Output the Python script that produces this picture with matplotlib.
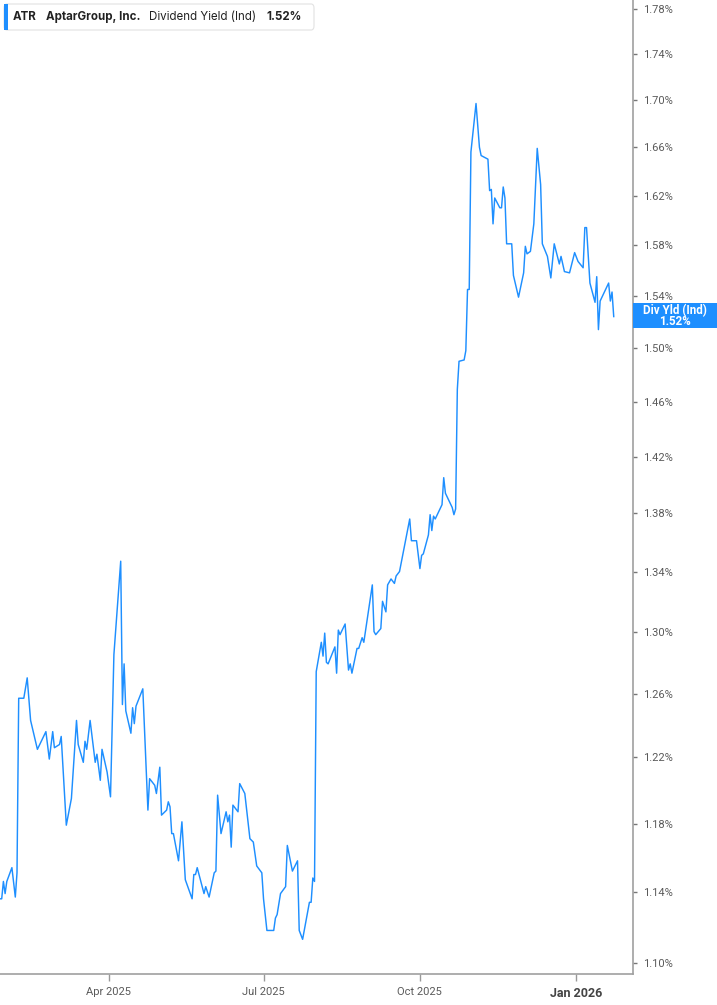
import numpy as np
import pandas as pd
import matplotlib
matplotlib.use("Agg")
import matplotlib.pyplot as plt
import matplotlib.dates as mdates
from matplotlib.patches import Rectangle, FancyBboxPatch
from matplotlib.ticker import FixedLocator, FuncFormatter, NullLocator

# dividend yield (Ind), in percent
dates = [
    "2025-01-27", "2025-01-28", "2025-01-29", "2025-01-30", "2025-01-31", "2025-02-03",
    "2025-02-05", "2025-02-06", "2025-02-07", "2025-02-10", "2025-02-12", "2025-02-14",
    "2025-02-18", "2025-02-23", "2025-02-25", "2025-02-27", "2025-02-28", "2025-03-03",
    "2025-03-04", "2025-03-07", "2025-03-10", "2025-03-13", "2025-03-14", "2025-03-17",
    "2025-03-18", "2025-03-19", "2025-03-21", "2025-03-24", "2025-03-25", "2025-03-27",
    "2025-03-28", "2025-03-31", "2025-04-02", "2025-04-04", "2025-04-08", "2025-04-09",
    "2025-04-10", "2025-04-11", "2025-04-14", "2025-04-15", "2025-04-16", "2025-04-17",
    "2025-04-21", "2025-04-24", "2025-04-25", "2025-04-28", "2025-04-29", "2025-05-01",
    "2025-05-02", "2025-05-05", "2025-05-06", "2025-05-07", "2025-05-08", "2025-05-09",
    "2025-05-12", "2025-05-14", "2025-05-16", "2025-05-20", "2025-05-21", "2025-05-22",
    "2025-05-23", "2025-05-27", "2025-05-28", "2025-05-30", "2025-06-02", "2025-06-03",
    "2025-06-04", "2025-06-06", "2025-06-09", "2025-06-10", "2025-06-11", "2025-06-12",
    "2025-06-13", "2025-06-16", "2025-06-17", "2025-06-20", "2025-06-23", "2025-06-25",
    "2025-06-27", "2025-06-30", "2025-07-01", "2025-07-03", "2025-07-07", "2025-07-08",
    "2025-07-09", "2025-07-11", "2025-07-14", "2025-07-15", "2025-07-18", "2025-07-21",
    "2025-07-22", "2025-07-24", "2025-07-28", "2025-07-29", "2025-07-30", "2025-07-31",
    "2025-08-01", "2025-08-04", "2025-08-05", "2025-08-06", "2025-08-07", "2025-08-08",
    "2025-08-12", "2025-08-13", "2025-08-14", "2025-08-15", "2025-08-18", "2025-08-20",
    "2025-08-21", "2025-08-22", "2025-08-25", "2025-08-26", "2025-08-28", "2025-08-29",
    "2025-09-03", "2025-09-04", "2025-09-05", "2025-09-08", "2025-09-09", "2025-09-11",
    "2025-09-12", "2025-09-14", "2025-09-16", "2025-09-17", "2025-09-19", "2025-09-25",
    "2025-09-26", "2025-09-29", "2025-10-01", "2025-10-02", "2025-10-03", "2025-10-06",
    "2025-10-07", "2025-10-08", "2025-10-09", "2025-10-10", "2025-10-14", "2025-10-15",
    "2025-10-16", "2025-10-20", "2025-10-21", "2025-10-22", "2025-10-23", "2025-10-24",
    "2025-10-27", "2025-10-28", "2025-10-29", "2025-10-30", "2025-10-31", "2025-11-03",
    "2025-11-05", "2025-11-06", "2025-11-10", "2025-11-11", "2025-11-12", "2025-11-13",
    "2025-11-14", "2025-11-17", "2025-11-18", "2025-11-19", "2025-11-20", "2025-11-21",
    "2025-11-24", "2025-11-25", "2025-11-28", "2025-12-01", "2025-12-02", "2025-12-03",
    "2025-12-05", "2025-12-07", "2025-12-09", "2025-12-11", "2025-12-12", "2025-12-15",
    "2025-12-17", "2025-12-19", "2025-12-22", "2025-12-23", "2025-12-25", "2025-12-28",
    "2025-12-31", "2026-01-02", "2026-01-05", "2026-01-06", "2026-01-07", "2026-01-09",
    "2026-01-12", "2026-01-13", "2026-01-14", "2026-01-15", "2026-01-20", "2026-01-21",
    "2026-01-22", "2026-01-23",
]
yield_pct = [
    1.136, 1.136, 1.146, 1.139, 1.146, 1.154,
    1.137, 1.151, 1.257, 1.257, 1.270, 1.243,
    1.225, 1.236, 1.219, 1.236, 1.226, 1.228,
    1.233, 1.179, 1.195, 1.243, 1.228, 1.217,
    1.230, 1.225, 1.243, 1.217, 1.222, 1.206,
    1.225, 1.211, 1.196, 1.285, 1.347, 1.253,
    1.279, 1.249, 1.235, 1.251, 1.241, 1.252,
    1.263, 1.188, 1.207, 1.203, 1.198, 1.214,
    1.185, 1.188, 1.193, 1.190, 1.174, 1.174,
    1.158, 1.181, 1.147, 1.136, 1.150, 1.150,
    1.154, 1.139, 1.143, 1.137, 1.151, 1.152,
    1.197, 1.174, 1.187, 1.181, 1.185, 1.166,
    1.191, 1.187, 1.204, 1.198, 1.171, 1.169,
    1.155, 1.151, 1.136, 1.118, 1.118, 1.125,
    1.127, 1.139, 1.143, 1.167, 1.152, 1.158,
    1.118, 1.113, 1.134, 1.134, 1.148, 1.146,
    1.274, 1.293, 1.284, 1.299, 1.280, 1.279,
    1.290, 1.273, 1.301, 1.298, 1.305, 1.275,
    1.279, 1.273, 1.289, 1.289, 1.296, 1.293,
    1.331, 1.300, 1.298, 1.302, 1.320, 1.313,
    1.331, 1.335, 1.332, 1.337, 1.340, 1.376,
    1.361, 1.361, 1.342, 1.351, 1.352, 1.365,
    1.379, 1.368, 1.378, 1.376, 1.386, 1.405,
    1.394, 1.384, 1.379, 1.383, 1.469, 1.490,
    1.491, 1.498, 1.545, 1.545, 1.656, 1.697,
    1.660, 1.653, 1.650, 1.624, 1.625, 1.597,
    1.618, 1.610, 1.610, 1.627, 1.618, 1.581,
    1.581, 1.556, 1.539, 1.558, 1.579, 1.573,
    1.575, 1.597, 1.659, 1.629, 1.581, 1.571,
    1.554, 1.581, 1.565, 1.571, 1.559, 1.558,
    1.574, 1.567, 1.562, 1.594, 1.594, 1.550,
    1.535, 1.555, 1.514, 1.536, 1.550, 1.536,
    1.543, 1.524,
]
y_ticks = [1.10, 1.14, 1.18, 1.22, 1.26, 1.30, 1.34, 1.38, 1.42, 1.46,
           1.50, 1.54, 1.58, 1.62, 1.66, 1.70, 1.74, 1.78]
x_ticks = ["2025-04-01", "2025-07-01", "2025-10-01", "2026-01-01"]
x_labels = ["Apr 2025", "Jul 2025", "Oct 2025", "Jan 2026"]

ticker_name = "ATR"
company = "AptarGroup, Inc."
metric = "Dividend Yield (Ind)"
current = "1.52%"

blue = "#1e8fff"
grey_txt = "#5a5a5a"
W, H = 717, 1005

fig = plt.figure(figsize=(W / 100, H / 100), dpi=100)
ax = fig.add_axes([0, 1 - 974 / H, 633 / W, 974 / H])

x = pd.to_datetime(dates)
ax.plot(x, yield_pct, color=blue, lw=1.05)

ax.set_yscale("log")
ax.set_ylim(1.0937, 1.788)
ax.set_xlim(pd.Timestamp("2025-01-27"), pd.Timestamp("2026-02-03 08:00"))

ax.yaxis.tick_right()
ax.yaxis.set_major_locator(FixedLocator(y_ticks))
ax.yaxis.set_minor_locator(NullLocator())
ax.yaxis.set_major_formatter(FuncFormatter(lambda v, p: "{:.2f}%".format(v)))
ax.tick_params(axis="y", which="major", length=3, width=1, color="#777777",
               pad=4, labelsize=8, labelcolor=grey_txt)
for t in ax.get_yticklabels():
    t.set_fontfamily("Roboto")

ax.set_xticks(pd.to_datetime(x_ticks))
ax.set_xticklabels(x_labels)
ax.tick_params(axis="x", length=5, width=1, color="#999999", pad=4,
               labelsize=8, labelcolor=grey_txt)
for t in ax.get_xticklabels():
    t.set_fontfamily("Roboto")
last_lab = ax.get_xticklabels()[-1]
last_lab.set_fontweight("bold")
last_lab.set_fontsize(9)
last_lab.set_color("#444444")

for s in ["left", "top"]:
    ax.spines[s].set_visible(False)
for s in ["right", "bottom"]:
    ax.spines[s].set_color("#a0a0a0")
    ax.spines[s].set_linewidth(1.2)


def px(xp, yp):
    # pixel position (from top-left) to figure fraction
    return xp / W, 1 - yp / H


# legend box top-left
fig.add_artist(FancyBboxPatch(px(4, 30), 310 / W, 26 / H,
                              boxstyle="round,pad=0,rounding_size=0.004",
                              transform=fig.transFigure, facecolor="white",
                              edgecolor="#e2e2e2", lw=0.8))
fig.add_artist(Rectangle(px(4, 30), 3.5 / W, 26 / H, transform=fig.transFigure,
                         facecolor=blue, edgecolor="none"))
lx, ly = px(13, 17)
fig.text(lx, ly, ticker_name, fontsize=8.3, fontweight="bold", family="Inter",
         color="#222222", va="center")
fig.text(px(46, 17)[0], ly, company, fontsize=8.3, fontweight="bold",
         family="Inter", color="#222222", va="center")
fig.text(px(149, 17)[0], ly, metric, fontsize=8.3, family="Inter",
         color="#222222", va="center")
fig.text(px(266, 17)[0], ly, current, fontsize=8.3, fontweight="bold",
         family="Inter", color="#222222", va="center")

# last value badge on the right axis
fig.canvas.draw()
yc = ax.transData.transform((mdates.date2num(x[-1]), yield_pct[-1]))[1]
yc_px = H - yc - 1.5
fig.add_artist(Rectangle(px(633, yc_px + 12.5), 84 / W, 25 / H,
                         transform=fig.transFigure, facecolor=blue,
                         edgecolor="none"))
bx = px(675, 0)[0]
fig.text(bx, px(0, yc_px - 5)[1], "Div Yld (Ind)", color="white", fontsize=8.4,
         fontweight="bold", family="Roboto", ha="center", va="center")
fig.text(bx, px(0, yc_px + 6.5)[1], current, color="white", fontsize=8.4,
         fontweight="bold", family="Roboto", ha="center", va="center")

fig.savefig("out.png", dpi=100)
